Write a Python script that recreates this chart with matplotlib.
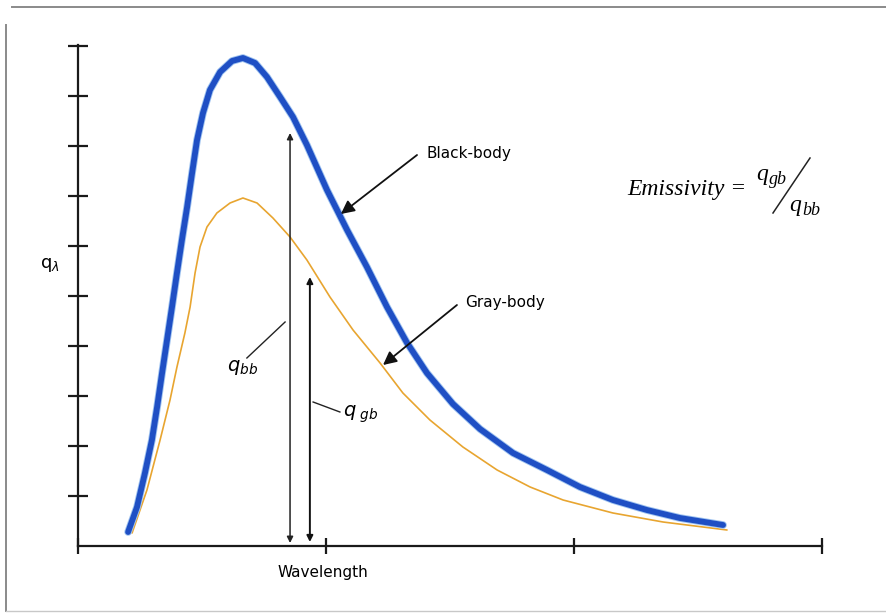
import matplotlib
matplotlib.use("Agg")
import matplotlib.pyplot as plt
from matplotlib.lines import Line2D
import matplotlib.patheffects as pe

# ---- data ----
bb_x = [0.202, 0.238, 0.270, 0.298, 0.319, 0.339, 0.359, 0.379, 0.399, 0.419,
        0.440, 0.460, 0.480, 0.504, 0.532, 0.573, 0.621, 0.665, 0.714, 0.762,
        0.815, 0.867, 0.923, 1.004, 1.085, 1.165, 1.246, 1.327, 1.407, 1.512,
        1.621, 1.754, 1.891, 2.024, 2.157, 2.294, 2.427, 2.601]
bb_y = [0.28, 0.78, 1.46, 2.12, 2.78, 3.46, 4.12, 4.78, 5.46, 6.12,
        6.78, 7.46, 8.12, 8.66, 9.12, 9.48, 9.70, 9.76, 9.66, 9.38,
        8.98, 8.58, 8.02, 7.12, 6.32, 5.58, 4.78, 4.06, 3.46, 2.84,
        2.34, 1.86, 1.52, 1.18, 0.92, 0.72, 0.56, 0.42]

gb_x = [0.218, 0.278, 0.331, 0.371, 0.399, 0.431, 0.452, 0.472, 0.492, 0.520,
        0.560, 0.613, 0.665, 0.722, 0.786, 0.855, 0.923, 1.016, 1.109, 1.218,
        1.310, 1.419, 1.552, 1.690, 1.823, 1.956, 2.157, 2.359, 2.617]
gb_y = [0.26, 1.12, 2.12, 2.92, 3.58, 4.26, 4.78, 5.46, 5.98, 6.38,
        6.66, 6.86, 6.96, 6.86, 6.56, 6.18, 5.72, 4.98, 4.32, 3.66,
        3.06, 2.52, 1.98, 1.52, 1.18, 0.92, 0.66, 0.48, 0.32]

x_ticks = [0, 1, 2, 3]
y_ticks = [1, 2, 3, 4, 5, 6, 7, 8, 9, 10]

W, H = 886, 613
fig = plt.figure(figsize=(W / 100, H / 100), dpi=100)
fig.patch.set_facecolor("white")

ax = fig.add_axes([78 / W, (H - 546) / H, 744 / W, 500 / H])
ax.set_xlim(0, 3)
ax.set_ylim(0, 10)
for s in ("top", "right"):
    ax.spines[s].set_visible(False)
for s in ("left", "bottom"):
    ax.spines[s].set_linewidth(1.6)
    ax.spines[s].set_color("#1a1a1a")
ax.spines["left"].set_bounds(0, 10.02)

ax.set_xticks(x_ticks)
ax.set_yticks(y_ticks)
ax.set_xticklabels([])
ax.set_yticklabels([])
ax.tick_params(axis="x", direction="inout", length=11, width=1.6, color="#1a1a1a")
ax.tick_params(axis="y", direction="inout", length=15, width=1.6, color="#1a1a1a")

# curves
ax.plot(gb_x, gb_y, color="#E8A530", lw=1.2, solid_capstyle="round",
        solid_joinstyle="round", zorder=3)
ax.plot(bb_x, bb_y, color="#1F4FC4", lw=4.2, solid_capstyle="round",
        solid_joinstyle="round", zorder=4,
        path_effects=[pe.Stroke(linewidth=5.5, foreground="#9FC3F0"), pe.Normal()])

# vertical double arrows
ax.annotate("", xy=(0.855, 8.26), xytext=(0.855, 0.06),
            arrowprops=dict(arrowstyle="<|-|>", mutation_scale=9, lw=1.1, color="#222222",
                            shrinkA=0, shrinkB=0))
ax.annotate("", xy=(0.935, 5.38), xytext=(0.935, 0.08),
            arrowprops=dict(arrowstyle="<|-|>", mutation_scale=9, lw=1.4, color="#111111",
                            shrinkA=0, shrinkB=0))

# leader lines for q labels
ax.plot([0.681, 0.835], [3.76, 4.48], color="#222222", lw=1.0)
ax.plot([0.948, 1.056], [2.88, 2.68], color="#222222", lw=1.0)
ax.text(0.665, 3.56, r"$q_{bb}$", fontsize=14, ha="center", va="center")
ax.text(1.070, 2.64, r"$q_{\ gb}$", fontsize=14, ha="left", va="center")

# labelled arrows
ax.annotate("", xy=(1.060, 6.64), xytext=(1.367, 7.82),
            arrowprops=dict(arrowstyle="-|>", mutation_scale=20, lw=1.3, color="#111111",
                            shrinkA=0, shrinkB=0), zorder=6)
ax.text(1.405, 7.84, "Black-body", fontsize=11, ha="left", va="center",
        family="DejaVu Sans")
ax.annotate("", xy=(1.230, 3.62), xytext=(1.528, 4.82),
            arrowprops=dict(arrowstyle="-|>", mutation_scale=20, lw=1.3, color="#111111",
                            shrinkA=0, shrinkB=0), zorder=6)
ax.text(1.560, 4.86, "Gray-body", fontsize=11, ha="left", va="center",
        family="DejaVu Sans")

# axis labels
ax.text(0.988, -0.52, "Wavelength", fontsize=11, ha="center", va="center",
        family="DejaVu Sans")
ax.text(-0.115, 5.62, r"$\mathregular{q}_{\lambda}$", fontsize=13, ha="center", va="center")

# emissivity formula (figure pixel coords)
def fx(px):
    return px / W

def fy(py):
    return 1 - py / H

fig.text(fx(747), fy(195), "Emissivity =", fontsize=17, family="Liberation Serif",
         style="italic", ha="right", va="baseline")
fig.text(fx(756), fy(180), "q", fontsize=17, family="Liberation Serif",
         style="italic", ha="left", va="baseline")
fig.text(fx(769), fy(184), "gb", fontsize=13, family="Liberation Serif",
         style="italic", ha="left", va="baseline")
fig.add_artist(Line2D([fx(773), fx(810)], [fy(213), fy(158)], color="#222222", lw=1.1))
fig.text(fx(789), fy(211), "q", fontsize=17, family="Liberation Serif",
         style="italic", ha="left", va="baseline")
fig.text(fx(802), fy(215), "bb", fontsize=13, family="Liberation Serif",
         style="italic", ha="left", va="baseline")

# scanned page frame
fig.add_artist(Line2D([fx(12), fx(886)], [fy(7), fy(7)], color="#8a8a8a", lw=1.4))
fig.add_artist(Line2D([fx(6), fx(6)], [fy(25), fy(611)], color="#8a8a8a", lw=1.4))
fig.add_artist(Line2D([fx(6), fx(886)], [fy(611), fy(611)], color="#c8c8c8", lw=1.0))

fig.savefig("out.png", dpi=100, facecolor="white")
